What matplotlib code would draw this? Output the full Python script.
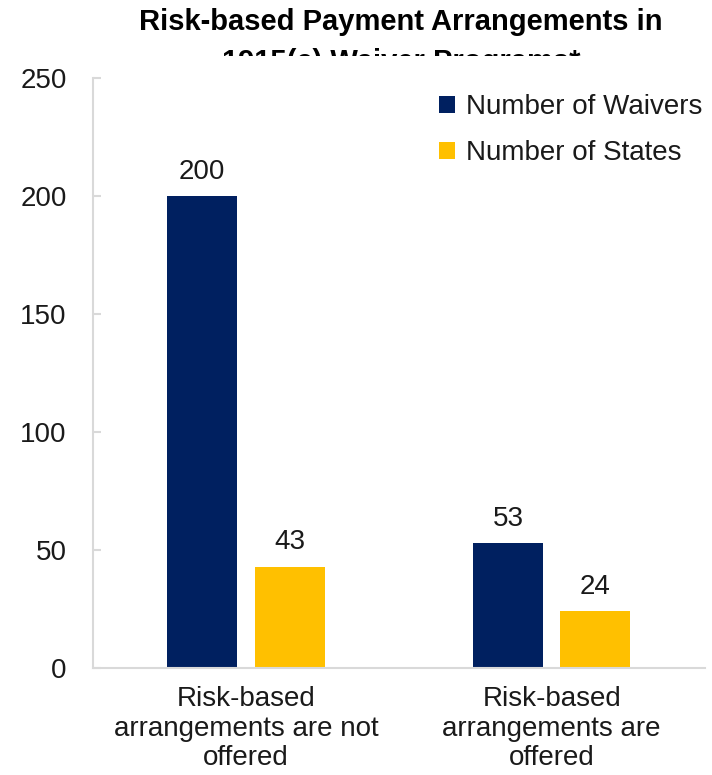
import matplotlib
matplotlib.use("Agg")
import matplotlib.pyplot as plt
import numpy as np
from matplotlib.transforms import Bbox, TransformedBbox

plt.rcParams['font.family'] = ['Liberation Sans', 'DejaVu Sans']

# Data
categories = ["Risk-based\narrangements are not\noffered",
              "Risk-based\narrangements are\noffered"]
waivers = [200, 53]
states = [43, 24]
series_names = ["Number of Waivers", "Number of States"]

NAVY = "#002060"
GOLD = "#FFC000"
AXIS_GREY = "#D9D9D9"
TEXT = "#1a1a1a"
FS = 20

fig = plt.figure(figsize=(7.12, 7.75), dpi=100)
ax = fig.add_axes([0.1306, 0.138, 0.859, 0.7614])

x = np.arange(len(categories))
width = 0.229
offset = 0.143

b1 = ax.bar(x - offset, waivers, width, color=NAVY, label=series_names[0])
b2 = ax.bar(x + offset, states, width, color=GOLD, label=series_names[1])

for bars in (b1, b2):
    for rect in bars:
        h = rect.get_height()
        ax.annotate(f"{h:g}", (rect.get_x() + rect.get_width() / 2, h),
                    xytext=(0, 8), textcoords="offset points",
                    ha="center", va="bottom", fontsize=FS, color=TEXT)

ax.set_xlim(-0.5, 1.5)
ax.set_ylim(0, 250)
ax.set_yticks(np.arange(0, 251, 50))
ax.set_xticks(x)
ax.set_xticklabels(categories, fontsize=FS, color=TEXT, linespacing=1.18)

for side in ("top", "right"):
    ax.spines[side].set_visible(False)
for side in ("left", "bottom"):
    ax.spines[side].set_color(AXIS_GREY)
    ax.spines[side].set_linewidth(1.5)

ax.tick_params(axis="y", direction="in", length=6, width=1.5, color=AXIS_GREY,
               labelsize=FS, labelcolor=TEXT, pad=19)
ax.tick_params(axis="x", length=0, pad=13)

leg = ax.legend(loc="upper right", bbox_to_anchor=(1.037, 1.015), frameon=False,
                fontsize=FS, handlelength=0.55, handleheight=0.55,
                handletextpad=0.4, labelspacing=0.72)
for t in leg.get_texts():
    t.set_color(TEXT)

# Title; the second line is cut off by the plot area below it
title = fig.text(0.563, 0.99,
                 "Risk-based Payment Arrangements in\n1915(c) Waiver Programs*",
                 ha="center", va="top", fontsize=21, fontweight="bold",
                 linespacing=1.56)
clip = TransformedBbox(Bbox([[0, 1 - 56 / 775], [1, 1]]), fig.transFigure)
title.set_clip_box(clip)
title.set_clip_on(True)

fig.savefig("out.png", dpi=100)
